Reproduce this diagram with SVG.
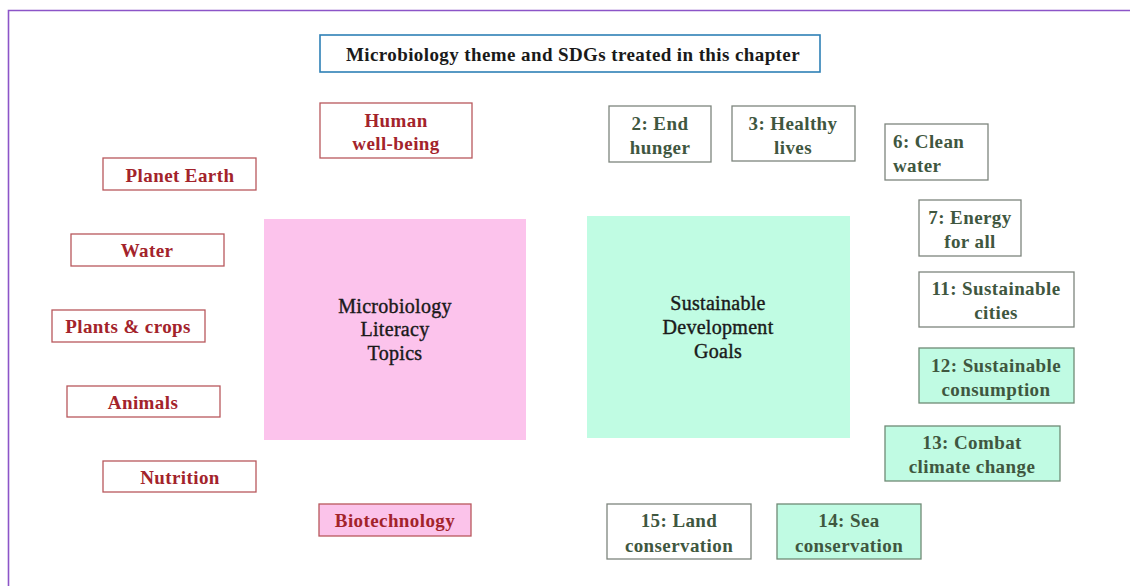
<svg xmlns="http://www.w3.org/2000/svg" width="1130" height="586" viewBox="0 0 1130 586">
<style>
text{font-family:"Liberation Serif","DejaVu Serif",serif;font-weight:bold;font-size:19px;letter-spacing:0.4px;text-anchor:middle;dominant-baseline:central}
.t{fill:#a3232b}
.tb{fill:#ffffff;stroke:#b8585c;stroke-width:1.3}
.tp{fill:#fbc3ea;stroke:#b8585c;stroke-width:1.3}
.s{fill:#3f573f}
.sb{fill:#ffffff;stroke:#7d857d;stroke-width:1.3}
.sg{fill:#c0fbe3;stroke:#6f8a76;stroke-width:1.3}
.k{fill:#1a1a1a}
.c{font-weight:normal;font-size:20px;letter-spacing:0.3px;stroke:#1a1a1a;stroke-width:0.4px}
</style>
<rect x="0" y="0" width="1130" height="586" fill="#ffffff"/>
<path d="M8.5,586 V10.5 H1130" fill="none" stroke="#8c55c8" stroke-width="1.6"/>
<g id="title">
<rect x="320" y="35" width="500" height="37" fill="#ffffff" stroke="#2e80b6" stroke-width="1.6"/>
<text class="k" x="573" y="54" font-size="18">Microbiology theme and SDGs treated in this chapter</text>
</g>
<g id="human-wellbeing">
<rect class="tb" x="320" y="103" width="152" height="55"/>
<text class="t" x="396" y="120">Human</text><text class="t" x="396" y="143">well-being</text>
</g>
<g id="planet-earth">
<rect class="tb" x="103" y="158" width="153" height="32"/>
<text class="t" x="180" y="175">Planet Earth</text>
</g>
<g id="water">
<rect class="tb" x="71" y="234" width="153" height="32"/>
<text class="t" x="147" y="250">Water</text>
</g>
<g id="plants-crops">
<rect class="tb" x="52" y="310" width="153" height="32"/>
<text class="t" x="128" y="326">Plants &amp; crops</text>
</g>
<g id="animals">
<rect class="tb" x="67" y="386" width="153" height="31"/>
<text class="t" x="143" y="402">Animals</text>
</g>
<g id="nutrition">
<rect class="tb" x="103" y="461" width="153" height="31"/>
<text class="t" x="180" y="477">Nutrition</text>
</g>
<g id="biotechnology">
<rect class="tp" x="319" y="504" width="152" height="32"/>
<text class="t" x="395" y="520">Biotechnology</text>
</g>
<g id="microbiology-literacy">
<rect x="264" y="219" width="262" height="221" fill="#fcc3ec"/>
<text class="k c" x="395" y="306">Microbiology</text><text class="k c" x="395" y="329">Literacy</text><text class="k c" x="395" y="353">Topics</text>
</g>
<g id="sdgs">
<rect x="587" y="216" width="263" height="222" fill="#c0fce3"/>
<text class="k c" x="718" y="303">Sustainable</text><text class="k c" x="718" y="327">Development</text><text class="k c" x="718" y="351">Goals</text>
</g>
<g id="sdg2">
<rect class="sb" x="609" y="106" width="102" height="56"/>
<text class="s" x="660" y="123">2: End</text><text class="s" x="660" y="147">hunger</text>
</g>
<g id="sdg3">
<rect class="sb" x="732" y="106" width="123" height="55"/>
<text class="s" x="793" y="123">3: Healthy</text><text class="s" x="793" y="147">lives</text>
</g>
<g id="sdg6">
<rect class="sb" x="885" y="124" width="103" height="56"/>
<text class="s" x="893" y="141" style="text-anchor:start">6: Clean</text><text class="s" x="893" y="165" style="text-anchor:start">water</text>
</g>
<g id="sdg7">
<rect class="sb" x="919" y="200" width="102" height="56"/>
<text class="s" x="970" y="217">7: Energy</text><text class="s" x="970" y="241">for all</text>
</g>
<g id="sdg11">
<rect class="sb" x="919" y="272" width="155" height="55"/>
<text class="s" x="996" y="288">11: Sustainable</text><text class="s" x="996" y="312">cities</text>
</g>
<g id="sdg12">
<rect class="sg" x="919" y="348" width="155" height="55"/>
<text class="s" x="996" y="365">12: Sustainable</text><text class="s" x="996" y="389">consumption</text>
</g>
<g id="sdg13">
<rect class="sg" x="885" y="426" width="175" height="55"/>
<text class="s" x="972" y="442">13: Combat</text><text class="s" x="972" y="466">climate change</text>
</g>
<g id="sdg15">
<rect class="sb" x="607" y="504" width="144" height="55"/>
<text class="s" x="679" y="520">15: Land</text><text class="s" x="679" y="545">conservation</text>
</g>
<g id="sdg14">
<rect class="sg" x="777" y="504" width="144" height="55"/>
<text class="s" x="849" y="520">14: Sea</text><text class="s" x="849" y="545">conservation</text>
</g>
<g id="connectors"></g>
</svg>
